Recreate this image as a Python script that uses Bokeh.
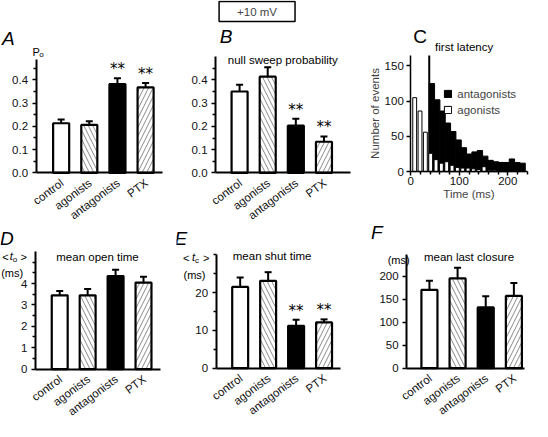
from bokeh.plotting import figure
from bokeh.models import (Range1d, FixedTicker, PrintfTickFormatter, Label, LabelSet,
                          ColumnDataSource, Whisker, TeeHead)
from bokeh.layouts import row, column
from bokeh.core.properties import value
from bokeh.embed import file_html
from bokeh.resources import INLINE

# ---------------- data ----------------
categories = ["control", "agonists", "antagonists", "PTX"]
cat_pos = [1, 2, 3, 4]

po_mean = [0.213, 0.206, 0.381, 0.367]
po_err = [0.016, 0.016, 0.025, 0.019]
po_sig = ["", "", "**", "**"]

null_mean = [0.350, 0.414, 0.203, 0.134]
null_err = [0.029, 0.040, 0.030, 0.023]
null_sig = ["", "", "**", "**"]

open_mean = [3.45, 3.45, 4.35, 4.05]
open_err = [0.20, 0.30, 0.30, 0.27]
open_sig = ["", "", "", ""]

shut_mean = [21.5, 23.1, 11.2, 12.1]
shut_err = [2.5, 2.3, 1.6, 0.8]
shut_sig = ["", "", "**", "**"]

last_mean = [170, 195, 132, 157]
last_err = [20, 23, 24, 28]
last_sig = ["", "", "", ""]

lat_agon_t = [8, 19, 30, 41, 52, 63, 74, 85, 96, 107, 118, 129, 140, 151, 162, 173, 184, 195]
lat_agon_n = [105, 86, 56, 26, 17, 12, 14, 9, 6, 5, 5, 4, 3, 7, 2, 2, 1, 1]
lat_antag_t = [43.5, 54.5, 65.5, 76.5, 87.5, 98.5, 109.5, 120.5, 131.5, 142.5, 153.5,
               164.5, 175.5, 186.5, 197.5, 208.5, 219.5, 230.5]
lat_antag_n = [125, 102, 86, 69, 57, 45, 34, 25, 28, 30, 22, 16, 14, 13, 13, 18, 13, 12]
lat_antag_peak_t = [38]
lat_antag_peak_n = [165]

po_ticks = [0, 0.1, 0.2, 0.3, 0.4]
po_minor = [0.05, 0.15, 0.25, 0.35, 0.45]
open_ticks = [0, 1, 2, 3, 4]
open_minor = [0.5, 1.5, 2.5, 3.5, 4.5, 5.0]
shut_ticks = [0, 10, 20]
shut_minor = [5, 15, 25, 30]
last_ticks = [0, 50, 100, 150, 200]
lat_x_ticks = [0, 100, 200]
lat_x_minor = [20, 40, 60, 80, 120, 140, 160, 180, 220, 240]
lat_y_ticks = [0, 50, 100, 150]

# ---------------- styles / layout ----------------
FONT = "Liberation Sans"
SX = 0.970  # page px per reference px (horizontal)
SY = 0.963  # page px per reference px (vertical)
bar_fill = ["white", "white", "black", "white"]
bar_hatch = ["blank", "left_diagonal_line", "blank", "right_diagonal_line"]

# axis box (in reference pixels) and the data extent of the axes
FR = {
    "A": dict(fl=36.7, fr=166.7, ft=61.7, fb=179.0, xr=(0.11, 4.59), yr=(0, 0.485)),
    "B": dict(fl=221.7, fr=361.0, ft=58.3, fb=179.0, xr=(0.145, 4.95), yr=(0, 0.5)),
    "C": dict(fl=423.0, fr=543.0, ft=57.0, fb=177.7, xr=(0, 240), yr=(0, 165)),
    "D": dict(fl=36.0, fr=165.0, ft=260.7, fb=382.7, xr=(0.13, 4.61), yr=(0, 5.5)),
    "E": dict(fl=222.3, fr=350.0, ft=263.3, fb=381.7, xr=(0.14, 4.57), yr=(0, 30.2)),
    "F": dict(fl=418.7, fr=539.7, ft=263.3, fb=381.7, xr=(0.19, 4.36), yr=(0, 248)),
}
# figure boxes on the page (page pixels): x0, x1, y0, y1
BOX = {
    "A": (0, 176, 0, 222), "B": (176, 351, 0, 222), "C": (351, 531, 0, 222),
    "D": (0, 176, 222, 421), "E": (176, 349, 222, 421), "F": (349, 531, 222, 421),
}


def to_data(k, px, py):
    f = FR[k]
    x = f["xr"][0] + (px - f["fl"]) / (f["fr"] - f["fl"]) * (f["xr"][1] - f["xr"][0])
    y = f["yr"][0] + (f["fb"] - py) / (f["fb"] - f["ft"]) * (f["yr"][1] - f["yr"][0])
    return x, y


def style_axis(ax, lw=2):
    ax.axis_line_width = lw
    ax.axis_line_color = "black"
    ax.major_tick_line_width = 1.5
    ax.minor_tick_line_width = 1.5
    ax.major_tick_out = 4
    ax.major_tick_in = 0
    ax.minor_tick_out = 3
    ax.minor_tick_in = 0
    ax.major_label_text_font = FONT
    ax.major_label_text_font_size = "11.5px"
    ax.major_label_text_color = "#111111"


def make_fig(k, lw=2):
    x0, x1, y0, y1 = BOX[k]
    f = FR[k]
    dx0, dy1 = to_data(k, x0 / SX, y1 / SY)
    dx1, dy0 = to_data(k, x1 / SX, y0 / SY)
    p = figure(width=x1 - x0, height=y1 - y0, title=None,
               x_range=Range1d(dx0, dx1), y_range=Range1d(dy1, dy0),
               output_backend="svg", toolbar_location=None,
               min_border_left=0, min_border_right=0,
               min_border_top=0, min_border_bottom=0)
    p.outline_line_color = None
    p.xgrid.visible = False
    p.ygrid.visible = False
    p.background_fill_color = "white"
    p.border_fill_color = "white"
    p.xaxis.fixed_location = f["yr"][0]
    p.yaxis.fixed_location = f["xr"][0]
    p.xaxis.bounds = f["xr"]
    p.yaxis.bounds = f["yr"]
    style_axis(p.xaxis[0], lw)
    style_axis(p.yaxis[0], lw)
    return p


def txt(p, k, px, py, text, size, style="normal", align="center", baseline="middle",
        font=FONT):
    x, y = to_data(k, px, py)
    p.add_layout(Label(x=x, y=y, text=text, text_font=font, text_font_size=f"{size}px",
                       text_font_style=style, text_align=align, text_baseline=baseline,
                       text_color="black"))


def bar_panel(k, means, errs, sig, ticks, minor, fmt=None):
    p = make_fig(k)
    upper = [m + e for m, e in zip(means, errs)]
    laby = to_data(k, 0, FR[k]["fb"] + 9)[1]
    src = ColumnDataSource(dict(x=cat_pos, cat=categories, mean=means, upper=upper,
                                fill=bar_fill, hatch=bar_hatch, sig=sig,
                                laby=[laby] * len(cat_pos)))
    p.vbar(x="x", top="mean", width=0.57, source=src, fill_color="fill",
           line_color="black", line_width=2.2, hatch_pattern="hatch",
           hatch_color="#8a8a8a", hatch_scale=9, hatch_weight=1)
    p.add_layout(Whisker(source=src, base="x", upper="upper", lower="mean",
                         line_color="black", line_width=2, level="annotation",
                         upper_head=TeeHead(size=7, line_width=2, line_color="black"),
                         lower_head=None))
    p.add_layout(LabelSet(source=src, x="x", y="upper", text="sig", text_align="center",
                          text_baseline="bottom", text_font=value("DejaVu Sans"),
                          text_font_size="15px", text_color="black"))
    p.add_layout(LabelSet(source=src, x="x", y="laby", text="cat", text_align="right",
                          text_baseline="middle", angle=0.64, x_offset=1,
                          text_font=value(FONT), text_font_size="11.5px",
                          text_color="#111111"))
    p.xaxis.ticker = FixedTicker(ticks=[])
    p.yaxis.ticker = FixedTicker(ticks=ticks, minor_ticks=minor)
    if fmt:
        p.yaxis.formatter = PrintfTickFormatter(format=fmt)
    p.yaxis.major_label_standoff = 4
    return p


# ---------------- A ----------------
pA = bar_panel("A", po_mean, po_err, po_sig, po_ticks, po_minor, "%.1f")
txt(pA, "A", 8, 39, "A", 19, style="italic")
txt(pA, "A", 33, 53, "P", 11, align="left")
txt(pA, "A", 40, 56, "o", 8, align="left")

# ---------------- B ----------------
pB = bar_panel("B", null_mean, null_err, null_sig, po_ticks, po_minor, "%.1f")
txt(pB, "B", 232.5, 37.5, "B", 19, style="italic")
txt(pB, "B", 291, 62, "null sweep probability", 11.5)
bx, by = to_data("B", 264.5, 11.5)
pB.add_layout(Label(x=bx, y=by, text="+10 mV", text_font=FONT, text_font_size="11.5px",
                    text_align="center", text_baseline="middle",
                    border_line_color="black", border_line_width=1.5,
                    background_fill_color="white",
                    padding=dict(left=18, right=18, top=4, bottom=4)))

# ---------------- C ----------------
pC = make_fig("C", lw=1.5)
pC.vbar(x=lat_antag_t, top=lat_antag_n, width=11, fill_color="black",
        line_color="black", line_width=1, legend_label="antagonists")
pC.segment(x0=lat_antag_peak_t, y0=[0], x1=lat_antag_peak_t, y1=lat_antag_peak_n,
           line_color="black", line_width=2)
pC.vbar(x=lat_agon_t, top=lat_agon_n, width=8, fill_color="white",
        line_color="black", line_width=1, legend_label="agonists")
pC.xaxis.ticker = FixedTicker(ticks=lat_x_ticks, minor_ticks=lat_x_minor)
pC.yaxis.ticker = FixedTicker(ticks=lat_y_ticks)
for ax in (pC.xaxis[0], pC.yaxis[0]):
    ax.axis_label_text_font = FONT
    ax.axis_label_text_font_size = "11.5px"
    ax.axis_label_text_font_style = "normal"
    ax.axis_label_standoff = 0
pC.xaxis.axis_label = "Time (ms)"
pC.yaxis.axis_label = "Number of events"
pC.xaxis.major_label_standoff = 1
pC.yaxis.major_label_standoff = 3
leg_x = 457 * SX - BOX["C"][0]
leg_y = BOX["C"][3] - 121 * SY
pC.legend.location = (leg_x, leg_y)
pC.legend.padding = 0
pC.legend.margin = 0
pC.legend.spacing = 2
pC.legend.label_height = 14
pC.legend.glyph_height = 9
pC.legend.glyph_width = 9
pC.legend.label_standoff = 5
pC.legend.label_text_font = FONT
pC.legend.label_text_font_size = "11.5px"
pC.legend.border_line_color = None
pC.legend.background_fill_alpha = 0
txt(pC, "C", 432.5, 37.5, "C", 19)
txt(pC, "C", 478, 48, "first latency", 11.5)

# ---------------- D ----------------
pD = bar_panel("D", open_mean, open_err, open_sig, open_ticks, open_minor)
txt(pD, "D", 6.5, 247.5, "D", 19, style="italic")
txt(pD, "D", 100, 266, "mean open time", 11.5)
txt(pD, "D", 5, 266, "<", 11)
txt(pD, "D", 11, 265.5, "t", 11, style="italic")
txt(pD, "D", 15, 268.5, "o", 8)
txt(pD, "D", 24, 266, ">", 11)
txt(pD, "D", 12, 282.5, "(ms)", 11)

# ---------------- E ----------------
pE = bar_panel("E", shut_mean, shut_err, shut_sig, shut_ticks, shut_minor)
txt(pE, "E", 186, 247.5, "E", 19, style="italic")
txt(pE, "E", 280, 265, "mean shut time", 11.5)
txt(pE, "E", 191.5, 267.3, "<", 11)
txt(pE, "E", 199, 266.5, "t", 11, style="italic")
txt(pE, "E", 202.5, 270, "c", 8)
txt(pE, "E", 212, 267.3, ">", 11)
txt(pE, "E", 200, 285.5, "(ms)", 11)

# ---------------- F ----------------
pF = bar_panel("F", last_mean, last_err, last_sig, last_ticks, [])
txt(pF, "F", 388, 241, "F", 19, style="italic")
txt(pF, "F", 483, 266, "mean last closure", 11.5)
txt(pF, "F", 410.5, 269, "(ms)", 11)

layout = column(row(pA, pB, pC), row(pD, pE, pF))
open("out.html", "w").write(file_html(layout, INLINE))
